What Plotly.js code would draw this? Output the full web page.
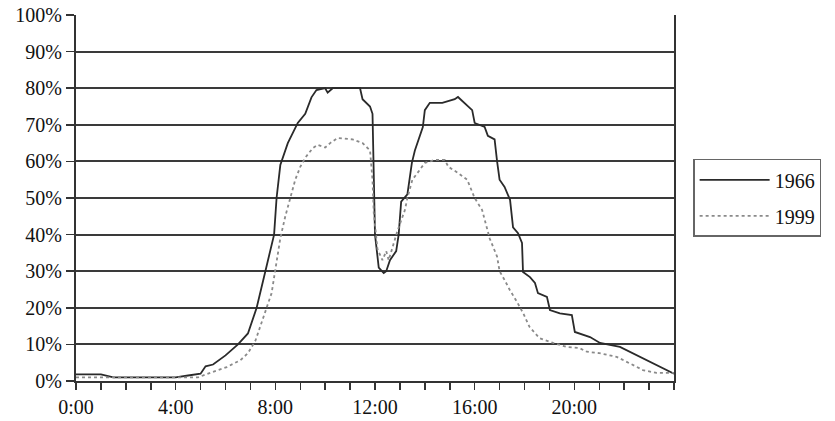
<!DOCTYPE html>
<html>
<head>
<meta charset="utf-8">
<script src="https://cdn.plot.ly/plotly-3.0.1.min.js"></script>
<style>
html,body{margin:0;padding:0;background:#fff;}
#chart{width:835px;height:421px;}
</style>
</head>
<body>
<div id="chart"></div>
<script>
// Hours of day (decimal) and share in percent
const hours1966 = [0, 1.0, 1.5, 4.0, 4.5, 5.0, 5.2, 5.5, 6.0, 6.5, 6.9, 7.25, 7.6, 7.95, 8.05, 8.2, 8.5, 8.9, 9.2, 9.45, 9.65, 10.0, 10.1, 10.3, 11.4, 11.5, 11.8, 11.9, 12.0, 12.15, 12.35, 12.45, 12.6, 12.85, 12.95, 13.05, 13.3, 13.48, 13.6, 13.92, 14.0, 14.2, 14.7, 15.2, 15.33, 15.6, 15.9, 16.0, 16.4, 16.53, 16.8, 16.9, 17.0, 17.2, 17.42, 17.54, 17.74, 17.9, 17.94, 18.22, 18.42, 18.54, 18.9, 19.02, 19.42, 19.9, 20.02, 20.63, 21.03, 21.83, 22.5, 23.15, 24];
const share1966 = [1.8, 1.8, 1, 1, 1.5, 2, 4, 4.5, 7, 10, 13, 20, 30, 40, 50, 59, 65, 70.5, 73, 77.5, 79.5, 80, 78.8, 80, 80, 77, 75, 73, 40, 31, 29.5, 30, 33, 35.5, 40, 49, 51, 59.6, 63, 69.4, 74, 76, 76, 77, 77.6, 76, 74, 70.5, 69.4, 67, 66, 60, 55, 53, 49.5, 42, 40.4, 37.7, 29.8, 28.4, 26.8, 24, 23, 19.4, 18.5, 18, 13.4, 12, 10.4, 9.3, 7, 4.9, 2];

const hours1999 = [0, 4.9, 5.5, 6.05, 6.6, 6.9, 7.2, 7.4, 7.65, 7.85, 8.0, 8.2, 8.4, 8.6, 8.8, 9.0, 9.2, 9.5, 9.7, 10.0, 10.2, 10.5, 11.1, 11.5, 11.8, 11.9, 11.95, 12.1, 12.3, 12.45, 12.55, 12.9, 13.2, 13.3, 13.5, 13.7, 14.0, 14.4, 14.8, 14.95, 15.3, 15.7, 16.0, 16.3, 16.6, 16.9, 17.0, 17.2, 17.4, 17.7, 17.95, 18.2, 18.6, 19.15, 19.7, 20.2, 20.5, 21.0, 21.7, 22.2, 22.75, 23.3, 24];
const share1999 = [1, 1, 2.5, 3.8, 5.7, 7.6, 11, 14.8, 20, 24, 31, 39, 45, 50, 55, 58.5, 61, 63.6, 64.5, 63.8, 65, 66.4, 66, 65, 63, 55, 46, 36, 33, 35.5, 33, 41, 46.7, 50, 55, 56.8, 59.6, 60.4, 60.4, 58.5, 57, 55, 50, 46.7, 39, 34, 30, 27.6, 25, 21.6, 18.5, 14.8, 11.7, 10.4, 9.3, 9, 8, 7.6, 6.6, 4.9, 3, 2.2, 2.2];

const xTickVals = [0, 4, 8, 12, 16, 20];
const xTickText = ["0:00", "4:00", "8:00", "12:00", "16:00", "20:00"];
const yTickVals = [0, 10, 20, 30, 40, 50, 60, 70, 80, 90, 100];
const yTickText = ["0%", "10%", "20%", "30%", "40%", "50%", "60%", "70%", "80%", "90%", "100%"];
const seriesNames = ["1966", "1999"];

const font = {family: "Liberation Serif, Times New Roman, serif", size: 20, color: "#111"};

const traces = [
  {x: hours1966, y: share1966, name: seriesNames[0], type: "scatter", mode: "lines",
   line: {color: "#2a2a2a", width: 1.8}, legendgroup: "a"},
  {x: hours1999, y: share1999, name: seriesNames[1], type: "scatter", mode: "lines",
   line: {color: "#8a8a8a", width: 1.8, dash: "dot"}, legendgroup: "b"}
];

const layout = {
  width: 835, height: 421,
  margin: {l: 76, r: 161, t: 15, b: 40},
  paper_bgcolor: "#fff", plot_bgcolor: "#fff",
  font: font,
  showlegend: true,
  legend: {x: 1.032, y: 0.607, xanchor: "left", yanchor: "top",
    bordercolor: "#666", borderwidth: 1.5, bgcolor: "#fff",
    font: {family: font.family, size: 20, color: "#111"},
    itemwidth: 70, traceorder: "grouped", tracegroupgap: 7},
  xaxis: {range: [0, 24], tickmode: "array", tickvals: xTickVals, ticktext: xTickText,
    ticks: "outside", ticklen: 7, tickwidth: 1.5, tickcolor: "#333",
    showgrid: false, zeroline: false, showline: true, linecolor: "#333", linewidth: 2,
    minor: {tickmode: "linear", tick0: 0, dtick: 1, ticks: "outside", ticklen: 7, tickwidth: 1.5, tickcolor: "#333", showgrid: false},
    tickfont: font, fixedrange: true},
  yaxis: {range: [0, 100], tickmode: "array", tickvals: yTickVals, ticktext: yTickText,
    ticks: "outside", ticklen: 8, tickwidth: 1.5, tickcolor: "#333",
    showgrid: true, gridcolor: "#3a3a3a", gridwidth: 2, zeroline: false,
    showline: true, mirror: true, linecolor: "#333", linewidth: 2,
    tickfont: font, fixedrange: true}
};

Plotly.newPlot("chart", traces, layout, {staticPlot: true, displayModeBar: false});
</script>
</body>
</html>
